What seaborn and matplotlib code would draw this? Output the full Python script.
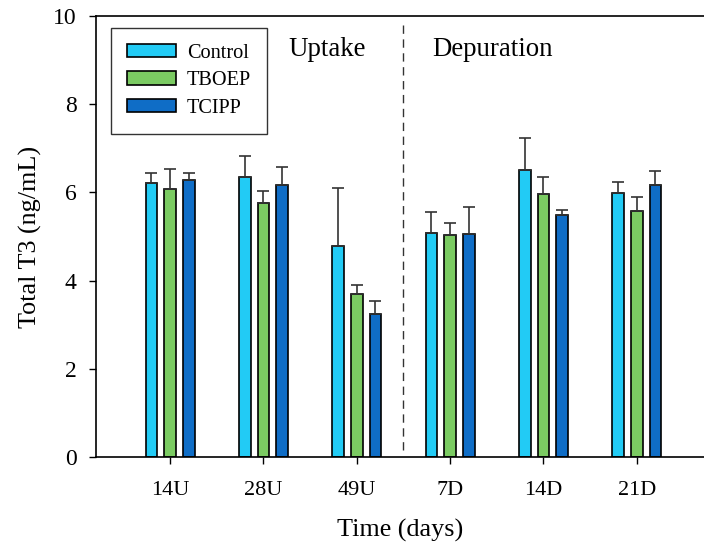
import numpy as np
import pandas as pd
import matplotlib
matplotlib.use("Agg")
import matplotlib.pyplot as plt
import seaborn as sns

# ---- data ----
times = ["14U", "28U", "49U", "7D", "14D", "21D"]
groups = ["Control", "TBOEP", "TCIPP"]
control_mean = [6.22, 6.34, 4.78, 5.07, 6.50, 5.99]
control_sd = [0.21, 0.49, 1.32, 0.49, 0.74, 0.25]
tboep_mean = [6.08, 5.77, 3.69, 5.03, 5.97, 5.57]
tboep_sd = [0.45, 0.27, 0.20, 0.28, 0.39, 0.32]
tcipp_mean = [6.27, 6.17, 3.25, 5.06, 5.48, 6.16]
tcipp_sd = [0.18, 0.41, 0.29, 0.60, 0.12, 0.32]
colors = ["#22CBF5", "#7BCB62", "#0F6DC6"]
y_ticks = [0, 2, 4, 6, 8, 10]

means = {"Control": control_mean, "TBOEP": tboep_mean, "TCIPP": tcipp_mean}
sds = {"Control": control_sd, "TBOEP": tboep_sd, "TCIPP": tcipp_sd}

rows = []
for g in groups:
    for t, m, s in zip(times, means[g], sds[g]):
        rows.append({"Time": t, "Group": g, "Value": m, "SD": s})
df = pd.DataFrame(rows)

sns.set_style("ticks")
plt.rcParams["font.family"] = ["Liberation Serif", "DejaVu Serif"]
plt.rcParams["axes.linewidth"] = 1.2
plt.rcParams["text.color"] = "black"
plt.rcParams["axes.labelcolor"] = "black"
plt.rcParams["xtick.color"] = "black"
plt.rcParams["ytick.color"] = "black"

fig = plt.figure(figsize=(7.04, 5.49), dpi=100)
ax = fig.add_axes([96 / 704, 1 - 457 / 549, 1 - 96 / 704, (457 - 16) / 549])

sns.barplot(data=df, x="Time", y="Value", hue="Group", order=times,
            hue_order=groups, palette=colors, width=0.6, gap=0.375,
            errorbar=None, edgecolor="black", linewidth=1.2, ax=ax,
            saturation=1)

for cont, g in zip(ax.containers, groups):
    xs = [b.get_x() + b.get_width() / 2 for b in cont]
    hs = [b.get_height() for b in cont]
    ax.errorbar(xs, hs, yerr=[np.zeros(len(hs)), sds[g]], fmt="none",
                ecolor="#333333", elinewidth=1.2, capsize=4.3, capthick=1.2,
                zorder=1)

ax.axvline(2.5, ymin=0.015, ymax=0.985, color="#333333", linestyle=(0, (6, 4)),
           linewidth=1.0)

ax.text(1.68, 9.23, "Uptake", ha="center", va="center", fontsize=19.4)
ax.text(3.45, 9.23, "Depuration", ha="center", va="center", fontsize=19.4)

ax.set_ylim(0, 10)
ax.set_yticks(y_ticks)
ax.set_xlim(-0.793, 5.72)
ax.set_xlabel("Time (days)", fontsize=18.8, labelpad=14)
ax.set_ylabel("Total T3 (ng/mL)", fontsize=18.8, labelpad=8)
ax.tick_params(axis="both", direction="out", length=5, width=1.0,
               color="black")
ax.tick_params(axis="x", labelsize=16, pad=12)
ax.tick_params(axis="y", labelsize=17, pad=9)
ax.spines["right"].set_visible(False)
for s in ["left", "bottom", "top"]:
    ax.spines[s].set_color("black")

leg = ax.legend(loc="upper left", bbox_to_anchor=(0.0247, 0.973),
                borderaxespad=0, fontsize=14.6, frameon=True, fancybox=False,
                edgecolor="black", handlelength=2.4, handleheight=0.65,
                handletextpad=0.55, labelspacing=0.42, borderpad=0.78)
leg.get_frame().set_linewidth(1.0)
leg.set_title(None)

fig.savefig("out.png", dpi=100)
